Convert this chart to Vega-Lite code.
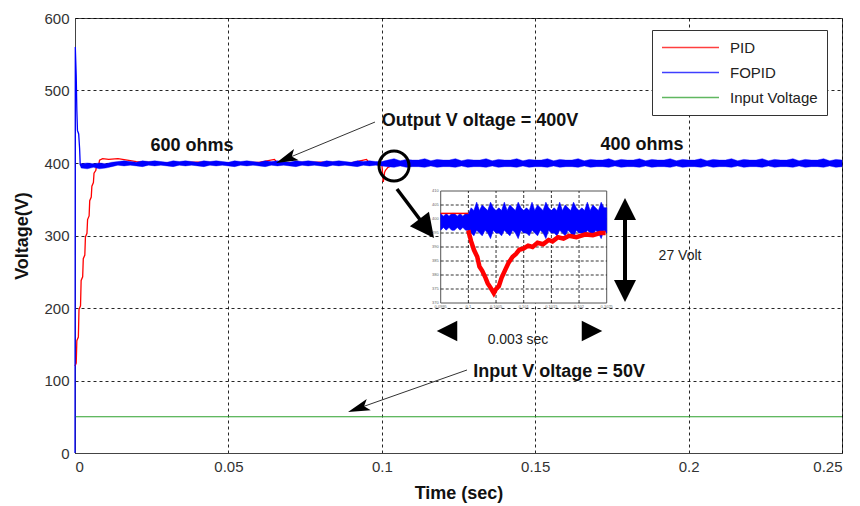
{
  "$schema": "https://vega.github.io/schema/vega-lite/v6.json",
  "width": 767,
  "height": 435,
  "autosize": {"type": "none"},
  "padding": {"left": 75, "top": 18, "right": 18, "bottom": 53},
  "background": "white",
  "datasets": {
    "pid": [
      {"t": 0, "v": 120}, {"t": 0.0004, "v": 124}, {"t": 0.0006, "v": 155}, {"t": 0.0011, "v": 160},
      {"t": 0.0013, "v": 198}, {"t": 0.0018, "v": 203}, {"t": 0.002, "v": 238}, {"t": 0.0025, "v": 243},
      {"t": 0.0027, "v": 268}, {"t": 0.0032, "v": 273}, {"t": 0.0034, "v": 298}, {"t": 0.0039, "v": 303},
      {"t": 0.0041, "v": 322}, {"t": 0.0046, "v": 327}, {"t": 0.0048, "v": 348}, {"t": 0.0053, "v": 353},
      {"t": 0.0055, "v": 368}, {"t": 0.006, "v": 373}, {"t": 0.0062, "v": 386}, {"t": 0.0068, "v": 390},
      {"t": 0.007, "v": 396}, {"t": 0.0078, "v": 399}, {"t": 0.008, "v": 404}, {"t": 0.009, "v": 406},
      {"t": 0.011, "v": 405}, {"t": 0.014, "v": 406}, {"t": 0.017, "v": 404}, {"t": 0.02, "v": 402},
      {"t": 0.025, "v": 401}, {"t": 0.03, "v": 400}, {"t": 0.04, "v": 401}, {"t": 0.05, "v": 400},
      {"t": 0.06, "v": 401}, {"t": 0.065, "v": 405}, {"t": 0.066, "v": 400}, {"t": 0.08, "v": 401},
      {"t": 0.09, "v": 400}, {"t": 0.095, "v": 405}, {"t": 0.096, "v": 400}, {"t": 0.1, "v": 400},
      {"t": 0.1002, "v": 388}, {"t": 0.1004, "v": 377}, {"t": 0.1005, "v": 374}, {"t": 0.1007, "v": 380},
      {"t": 0.1009, "v": 387}, {"t": 0.1012, "v": 390}, {"t": 0.1016, "v": 392}, {"t": 0.102, "v": 394},
      {"t": 0.1025, "v": 395}, {"t": 0.103, "v": 396.5}, {"t": 0.104, "v": 398}, {"t": 0.106, "v": 399.5},
      {"t": 0.11, "v": 400}, {"t": 0.15, "v": 400}, {"t": 0.2, "v": 400}, {"t": 0.25, "v": 400}
    ],
    "fopidStart": [
      {"t": 0, "v": 0}, {"t": 0.0001, "v": 560}, {"t": 0.0004, "v": 520}, {"t": 0.0006, "v": 473},
      {"t": 0.0008, "v": 445}, {"t": 0.0012, "v": 440}, {"t": 0.0015, "v": 420}, {"t": 0.0017, "v": 398},
      {"t": 0.002, "v": 396}
    ],
    "fopidBand": [
      {"t": 0.0017, "lo": 397, "hi": 399},
      {"t": 0.002, "lo": 393, "hi": 399}, {"t": 0.004, "lo": 392, "hi": 400}, {"t": 0.006, "lo": 394, "hi": 399},
      {"t": 0.008, "lo": 392, "hi": 400}, {"t": 0.010, "lo": 393, "hi": 399}, {"t": 0.012, "lo": 395, "hi": 401},
      {"t": 0.014, "lo": 397, "hi": 402}, {"t": 0.016, "lo": 396, "hi": 403}, {"t": 0.018, "lo": 397, "hi": 402},
      {"t": 0.020, "lo": 396, "hi": 401}, {"t": 0.022, "lo": 395, "hi": 403}, {"t": 0.024, "lo": 397, "hi": 402},
      {"t": 0.026, "lo": 396, "hi": 403}, {"t": 0.028, "lo": 397, "hi": 402}, {"t": 0.030, "lo": 396, "hi": 401},
      {"t": 0.032, "lo": 395, "hi": 403}, {"t": 0.034, "lo": 397, "hi": 402}, {"t": 0.036, "lo": 396, "hi": 403},
      {"t": 0.038, "lo": 397, "hi": 402}, {"t": 0.040, "lo": 396, "hi": 401}, {"t": 0.042, "lo": 395, "hi": 403},
      {"t": 0.044, "lo": 397, "hi": 402}, {"t": 0.046, "lo": 396, "hi": 403}, {"t": 0.048, "lo": 397, "hi": 402},
      {"t": 0.050, "lo": 396, "hi": 401}, {"t": 0.052, "lo": 395, "hi": 403}, {"t": 0.054, "lo": 397, "hi": 402},
      {"t": 0.056, "lo": 396, "hi": 403}, {"t": 0.058, "lo": 397, "hi": 402}, {"t": 0.060, "lo": 396, "hi": 401},
      {"t": 0.062, "lo": 395, "hi": 403}, {"t": 0.064, "lo": 397, "hi": 402}, {"t": 0.066, "lo": 396, "hi": 403},
      {"t": 0.068, "lo": 397, "hi": 402}, {"t": 0.070, "lo": 396, "hi": 401}, {"t": 0.072, "lo": 395, "hi": 403},
      {"t": 0.074, "lo": 397, "hi": 402}, {"t": 0.076, "lo": 396, "hi": 403}, {"t": 0.078, "lo": 397, "hi": 402},
      {"t": 0.080, "lo": 396, "hi": 401}, {"t": 0.082, "lo": 395, "hi": 403}, {"t": 0.084, "lo": 397, "hi": 402},
      {"t": 0.086, "lo": 396, "hi": 403}, {"t": 0.088, "lo": 397, "hi": 402}, {"t": 0.090, "lo": 396, "hi": 401},
      {"t": 0.092, "lo": 395, "hi": 403}, {"t": 0.094, "lo": 397, "hi": 402}, {"t": 0.096, "lo": 396, "hi": 403},
      {"t": 0.098, "lo": 397, "hi": 402}, {"t": 0.100, "lo": 396, "hi": 402},
      {"t": 0.102, "lo": 395, "hi": 404}, {"t": 0.104, "lo": 394, "hi": 406}, {"t": 0.106, "lo": 396, "hi": 403},
      {"t": 0.108, "lo": 394, "hi": 405}, {"t": 0.110, "lo": 395, "hi": 404}, {"t": 0.112, "lo": 395, "hi": 404},
      {"t": 0.114, "lo": 394, "hi": 406}, {"t": 0.116, "lo": 396, "hi": 403}, {"t": 0.118, "lo": 394, "hi": 405},
      {"t": 0.120, "lo": 395, "hi": 404}, {"t": 0.122, "lo": 395, "hi": 404}, {"t": 0.124, "lo": 394, "hi": 406},
      {"t": 0.126, "lo": 396, "hi": 403}, {"t": 0.128, "lo": 394, "hi": 405}, {"t": 0.130, "lo": 395, "hi": 404},
      {"t": 0.132, "lo": 395, "hi": 404}, {"t": 0.134, "lo": 394, "hi": 406}, {"t": 0.136, "lo": 396, "hi": 403},
      {"t": 0.138, "lo": 394, "hi": 405}, {"t": 0.140, "lo": 395, "hi": 404}, {"t": 0.142, "lo": 395, "hi": 404},
      {"t": 0.144, "lo": 394, "hi": 406}, {"t": 0.146, "lo": 396, "hi": 403}, {"t": 0.148, "lo": 394, "hi": 405},
      {"t": 0.150, "lo": 395, "hi": 404}, {"t": 0.152, "lo": 395, "hi": 404}, {"t": 0.154, "lo": 394, "hi": 406},
      {"t": 0.156, "lo": 396, "hi": 403}, {"t": 0.158, "lo": 394, "hi": 405}, {"t": 0.160, "lo": 395, "hi": 404},
      {"t": 0.162, "lo": 395, "hi": 404}, {"t": 0.164, "lo": 394, "hi": 406}, {"t": 0.166, "lo": 396, "hi": 403},
      {"t": 0.168, "lo": 394, "hi": 405}, {"t": 0.170, "lo": 395, "hi": 404}, {"t": 0.172, "lo": 395, "hi": 404},
      {"t": 0.174, "lo": 394, "hi": 406}, {"t": 0.176, "lo": 396, "hi": 403}, {"t": 0.178, "lo": 394, "hi": 405},
      {"t": 0.180, "lo": 395, "hi": 404}, {"t": 0.182, "lo": 395, "hi": 404}, {"t": 0.184, "lo": 394, "hi": 406},
      {"t": 0.186, "lo": 396, "hi": 403}, {"t": 0.188, "lo": 394, "hi": 405}, {"t": 0.190, "lo": 395, "hi": 404},
      {"t": 0.192, "lo": 395, "hi": 404}, {"t": 0.194, "lo": 394, "hi": 406}, {"t": 0.196, "lo": 396, "hi": 403},
      {"t": 0.198, "lo": 394, "hi": 405}, {"t": 0.200, "lo": 395, "hi": 404}, {"t": 0.202, "lo": 395, "hi": 404},
      {"t": 0.204, "lo": 394, "hi": 406}, {"t": 0.206, "lo": 396, "hi": 403}, {"t": 0.208, "lo": 394, "hi": 405},
      {"t": 0.210, "lo": 395, "hi": 404}, {"t": 0.212, "lo": 395, "hi": 404}, {"t": 0.214, "lo": 394, "hi": 406},
      {"t": 0.216, "lo": 396, "hi": 403}, {"t": 0.218, "lo": 394, "hi": 405}, {"t": 0.220, "lo": 395, "hi": 404},
      {"t": 0.222, "lo": 395, "hi": 404}, {"t": 0.224, "lo": 394, "hi": 406}, {"t": 0.226, "lo": 396, "hi": 403},
      {"t": 0.228, "lo": 394, "hi": 405}, {"t": 0.230, "lo": 395, "hi": 404}, {"t": 0.232, "lo": 395, "hi": 404},
      {"t": 0.234, "lo": 394, "hi": 406}, {"t": 0.236, "lo": 396, "hi": 403}, {"t": 0.238, "lo": 394, "hi": 405},
      {"t": 0.240, "lo": 395, "hi": 404}, {"t": 0.242, "lo": 395, "hi": 404}, {"t": 0.244, "lo": 394, "hi": 406},
      {"t": 0.246, "lo": 396, "hi": 403}, {"t": 0.248, "lo": 394, "hi": 405}, {"t": 0.250, "lo": 395, "hi": 404}
    ],
    "input": [{"t": 0, "v": 50}, {"t": 0.25, "v": 50}],
    "boldText": [
      {"label": "600 ohms", "t": 0.0381, "v": 423.4},
      {"label": "Output V oltage = 400V", "t": 0.1320, "v": 457.9},
      {"label": "400 ohms", "t": 0.1848, "v": 424.8},
      {"label": "Input V oltage = 50V", "t": 0.1578, "v": 112.1}
    ],
    "plainText": [
      {"label": "27 Volt", "t": 0.1972, "v": 271.7},
      {"label": "0.003 sec", "t": 0.1444, "v": 155.9}
    ],
    "thinArrows": [
      {"t": 0.09778, "v": 456.5, "t2": 0.06884, "v2": 405.8},
      {"t": 0.12777, "v": 114.5, "t2": 0.09237, "v2": 61.7}
    ],
    "insetGridT": [{"t": 0.1}, {"t": 0.1005}, {"t": 0.101}, {"t": 0.1015}, {"t": 0.102}],
    "insetGridV": [{"v": 375}, {"v": 380}, {"v": 385}, {"v": 390}, {"v": 395}, {"v": 400}, {"v": 405}],
    "insetYLabels": [{"v": 370, "label": "370"}, {"v": 375, "label": "375"}, {"v": 380, "label": "380"}, {"v": 385, "label": "385"}, {"v": 390, "label": "390"}, {"v": 395, "label": "395"}, {"v": 400, "label": "400"}, {"v": 405, "label": "405"}, {"v": 410, "label": "410"}],
    "insetXLabels": [{"t": 0.0995, "label": "0.0995"}, {"t": 0.1, "label": "0.1"}, {"t": 0.1005, "label": "0.1005"}, {"t": 0.101, "label": "0.101"}, {"t": 0.1015, "label": "0.1015"}, {"t": 0.102, "label": "0.102"}, {"t": 0.1025, "label": "0.1025"}],
    "insetBlueBand": [
      {"t": 0.0995, "lo": 396, "hi": 402}, {"t": 0.09955, "lo": 397, "hi": 401}, {"t": 0.0996, "lo": 396, "hi": 402},
      {"t": 0.09965, "lo": 397, "hi": 401}, {"t": 0.0997, "lo": 396, "hi": 402}, {"t": 0.09975, "lo": 396, "hi": 402},
      {"t": 0.0998, "lo": 397, "hi": 401}, {"t": 0.09985, "lo": 396, "hi": 402}, {"t": 0.0999, "lo": 397, "hi": 401},
      {"t": 0.09995, "lo": 396, "hi": 402}, {"t": 0.1, "lo": 396, "hi": 402},
      {"t": 0.10005, "lo": 395, "hi": 404}, {"t": 0.1001, "lo": 394, "hi": 403}, {"t": 0.10015, "lo": 396, "hi": 406},
      {"t": 0.1002, "lo": 395, "hi": 403}, {"t": 0.10025, "lo": 394, "hi": 405}, {"t": 0.1003, "lo": 396, "hi": 404},
      {"t": 0.10035, "lo": 395, "hi": 403}, {"t": 0.1004, "lo": 393, "hi": 406}, {"t": 0.10045, "lo": 396, "hi": 404},
      {"t": 0.1005, "lo": 395, "hi": 403}, {"t": 0.10055, "lo": 395, "hi": 404}, {"t": 0.1006, "lo": 394, "hi": 403},
      {"t": 0.10065, "lo": 396, "hi": 406}, {"t": 0.1007, "lo": 395, "hi": 403}, {"t": 0.10075, "lo": 394, "hi": 405},
      {"t": 0.1008, "lo": 396, "hi": 404}, {"t": 0.10085, "lo": 395, "hi": 403}, {"t": 0.1009, "lo": 393, "hi": 406},
      {"t": 0.10095, "lo": 396, "hi": 404}, {"t": 0.101, "lo": 395, "hi": 403}, {"t": 0.10105, "lo": 395, "hi": 404},
      {"t": 0.1011, "lo": 394, "hi": 403}, {"t": 0.10115, "lo": 396, "hi": 406}, {"t": 0.1012, "lo": 395, "hi": 403},
      {"t": 0.10125, "lo": 394, "hi": 405}, {"t": 0.1013, "lo": 396, "hi": 404}, {"t": 0.10135, "lo": 395, "hi": 403},
      {"t": 0.1014, "lo": 393, "hi": 406}, {"t": 0.10145, "lo": 396, "hi": 404}, {"t": 0.1015, "lo": 395, "hi": 403},
      {"t": 0.10155, "lo": 395, "hi": 404}, {"t": 0.1016, "lo": 394, "hi": 403}, {"t": 0.10165, "lo": 396, "hi": 406},
      {"t": 0.1017, "lo": 395, "hi": 403}, {"t": 0.10175, "lo": 394, "hi": 405}, {"t": 0.1018, "lo": 396, "hi": 404},
      {"t": 0.10185, "lo": 395, "hi": 403}, {"t": 0.1019, "lo": 393, "hi": 406}, {"t": 0.10195, "lo": 396, "hi": 404},
      {"t": 0.102, "lo": 395, "hi": 403}, {"t": 0.10205, "lo": 395, "hi": 404}, {"t": 0.1021, "lo": 394, "hi": 403},
      {"t": 0.10215, "lo": 396, "hi": 406}, {"t": 0.1022, "lo": 395, "hi": 403}, {"t": 0.10225, "lo": 394, "hi": 405},
      {"t": 0.1023, "lo": 396, "hi": 404}, {"t": 0.10235, "lo": 395, "hi": 403}, {"t": 0.1024, "lo": 393, "hi": 406},
      {"t": 0.10245, "lo": 396, "hi": 404}, {"t": 0.1025, "lo": 395, "hi": 404}
    ],
    "insetRedFlat": [{"t": 0.0995, "v": 402}, {"t": 0.1, "v": 402}],
    "insetRedDip": [
      {"t": 0.1, "v": 396}, {"t": 0.10001, "v": 395}, {"t": 0.10005, "v": 392},
      {"t": 0.1001, "v": 389}, {"t": 0.10016, "v": 386.5}, {"t": 0.1002, "v": 383}, {"t": 0.10025, "v": 381.5},
      {"t": 0.10031, "v": 379}, {"t": 0.10035, "v": 377}, {"t": 0.1004, "v": 375.5}, {"t": 0.10046, "v": 373.5},
      {"t": 0.1005, "v": 375}, {"t": 0.10055, "v": 376}, {"t": 0.1006, "v": 379}, {"t": 0.10067, "v": 382},
      {"t": 0.10073, "v": 384.5}, {"t": 0.1008, "v": 386.5}, {"t": 0.10086, "v": 387.5}, {"t": 0.10092, "v": 389},
      {"t": 0.101, "v": 389.5}, {"t": 0.10108, "v": 390.5}, {"t": 0.10116, "v": 390}, {"t": 0.10125, "v": 391.5},
      {"t": 0.10135, "v": 391}, {"t": 0.10145, "v": 392.5}, {"t": 0.10152, "v": 392}, {"t": 0.10162, "v": 393.5},
      {"t": 0.10172, "v": 393}, {"t": 0.10182, "v": 394}, {"t": 0.10195, "v": 393.5}, {"t": 0.10212, "v": 394.5},
      {"t": 0.10225, "v": 394.2}, {"t": 0.10238, "v": 395}, {"t": 0.10248, "v": 395}
    ]
  },
  "layer": [
    {
      "layer": [
        {
          "data": {"name": "input"},
          "mark": {"type": "line", "strokeWidth": 1.2},
          "encoding": {
            "x": {"field": "t", "type": "quantitative", "scale": {"domain": [0, 0.25], "nice": false, "zero": false},
                  "axis": {"title": "Time (sec)", "values": [0, 0.05, 0.1, 0.15, 0.2, 0.25], "format": "~g", "labelPadding": 6, "titlePadding": 10}},
            "y": {"field": "v", "type": "quantitative", "scale": {"domain": [0, 600], "nice": false, "zero": false},
                  "axis": {"title": "Voltage(V)", "values": [0, 100, 200, 300, 400, 500, 600], "labelPadding": 6, "titlePadding": 12}},
            "color": {"datum": "Input Voltage", "type": "nominal",
                      "scale": {"domain": ["PID", "FOPID", "Input Voltage"], "range": ["#ff0000", "#0000ff", "#2ca02c"]},
                      "legend": {"orient": "none", "legendX": 577, "legendY": 12, "title": null, "symbolType": "M-1,0H6.6",
                                 "symbolSize": 225, "symbolStrokeWidth": 1.3, "symbolOpacity": 0.75, "labelFontSize": 15, "padding": 9,
                                 "rowPadding": 8, "strokeColor": "#333", "fillColor": "#ffffff", "labelColor": "#222",
                                 "labelOffset": 52, "labelFont": "Liberation Sans"}}
          }
        },
        {
          "data": {"name": "pid"},
          "mark": {"type": "line", "strokeWidth": 1.3},
          "encoding": {
            "x": {"field": "t", "type": "quantitative"},
            "y": {"field": "v", "type": "quantitative"},
            "color": {"datum": "PID", "type": "nominal"}
          }
        },
        {
          "data": {"name": "fopidStart"},
          "mark": {"type": "line", "strokeWidth": 1.3},
          "encoding": {
            "x": {"field": "t", "type": "quantitative"},
            "y": {"field": "v", "type": "quantitative"},
            "color": {"datum": "FOPID", "type": "nominal"}
          }
        },
        {
          "data": {"name": "fopidBand"},
          "mark": {"type": "area", "color": "#0000ff", "opacity": 1, "stroke": "#0000ff", "strokeWidth": 0.4},
          "encoding": {
            "x": {"field": "t", "type": "quantitative"},
            "y": {"field": "lo", "type": "quantitative"},
            "y2": {"field": "hi"}
          }
        },
        {
          "data": {"name": "boldText"},
          "mark": {"type": "text", "fontSize": 18, "fontWeight": "bold", "color": "#111", "align": "center", "baseline": "middle"},
          "encoding": {
            "x": {"field": "t", "type": "quantitative"},
            "y": {"field": "v", "type": "quantitative"},
            "text": {"field": "label"}
          }
        },
        {
          "data": {"name": "plainText"},
          "mark": {"type": "text", "fontSize": 14, "color": "#222", "align": "center", "baseline": "middle"},
          "encoding": {
            "x": {"field": "t", "type": "quantitative"},
            "y": {"field": "v", "type": "quantitative"},
            "text": {"field": "label"}
          }
        },
        {
          "data": {"name": "thinArrows"},
          "mark": {"type": "rule", "color": "#333", "strokeWidth": 1},
          "encoding": {
            "x": {"field": "t", "type": "quantitative"},
            "y": {"field": "v", "type": "quantitative"},
            "x2": {"field": "t2"},
            "y2": {"field": "v2"}
          }
        },
        {
          "data": {"values": [{"t": 0.06884, "v": 405.8}]},
          "mark": {"type": "point", "shape": "M0,-1L0.55,1L0,0.55L-0.55,1Z", "size": 484, "filled": true, "color": "#000", "opacity": 1, "angle": 247.5},
          "encoding": {"x": {"field": "t", "type": "quantitative"}, "y": {"field": "v", "type": "quantitative"}}
        },
        {
          "data": {"values": [{"t": 0.09237, "v": 61.7}]},
          "mark": {"type": "point", "shape": "M0,-1L0.55,1L0,0.55L-0.55,1Z", "size": 484, "filled": true, "color": "#000", "opacity": 1, "angle": 250.5},
          "encoding": {"x": {"field": "t", "type": "quantitative"}, "y": {"field": "v", "type": "quantitative"}}
        },
        {
          "data": {"values": [{"t": 0.10398, "v": 395.9}]},
          "mark": {"type": "point", "shape": "circle", "size": 900, "filled": false, "color": "#000", "strokeWidth": 3, "opacity": 1},
          "encoding": {"x": {"field": "t", "type": "quantitative"}, "y": {"field": "v", "type": "quantitative"}}
        },
        {
          "data": {"values": [{"t": 0.10495, "v": 364.1, "t2": 0.11464, "v2": 309.7}]},
          "mark": {"type": "rule", "color": "#000", "strokeWidth": 3.5},
          "encoding": {
            "x": {"field": "t", "type": "quantitative"},
            "y": {"field": "v", "type": "quantitative"},
            "x2": {"field": "t2"},
            "y2": {"field": "v2"}
          }
        },
        {
          "data": {"values": [{"t": 0.11464, "v": 309.7}]},
          "mark": {"type": "point", "shape": "M0,-1L1,1L-1,1Z", "size": 576, "filled": true, "color": "#000", "opacity": 1, "angle": 142.6},
          "encoding": {"x": {"field": "t", "type": "quantitative"}, "y": {"field": "v", "type": "quantitative"}}
        },
        {
          "data": {"values": [{"t": 0.17927, "v": 336.6, "v2": 223.4}]},
          "mark": {"type": "rule", "color": "#000", "strokeWidth": 4},
          "encoding": {
            "x": {"field": "t", "type": "quantitative"},
            "y": {"field": "v", "type": "quantitative"},
            "y2": {"field": "v2"}
          }
        },
        {
          "data": {"values": [{"t": 0.17927, "v": 336.6}]},
          "mark": {"type": "point", "shape": "M0,-1L1,1L-1,1Z", "size": 484, "filled": true, "color": "#000", "opacity": 1, "angle": 0},
          "encoding": {"x": {"field": "t", "type": "quantitative"}, "y": {"field": "v", "type": "quantitative"}}
        },
        {
          "data": {"values": [{"t": 0.17927, "v": 223.4}]},
          "mark": {"type": "point", "shape": "M0,-1L1,1L-1,1Z", "size": 484, "filled": true, "color": "#000", "opacity": 1, "angle": 180},
          "encoding": {"x": {"field": "t", "type": "quantitative"}, "y": {"field": "v", "type": "quantitative"}}
        },
        {
          "data": {"values": [{"t": 0.12125, "v": 168.3}]},
          "mark": {"type": "point", "shape": "M0,-1L1,1L-1,1Z", "size": 420, "filled": true, "color": "#000", "opacity": 1, "angle": 270},
          "encoding": {"x": {"field": "t", "type": "quantitative"}, "y": {"field": "v", "type": "quantitative"}}
        },
        {
          "data": {"values": [{"t": 0.16851, "v": 168.3}]},
          "mark": {"type": "point", "shape": "M0,-1L1,1L-1,1Z", "size": 420, "filled": true, "color": "#000", "opacity": 1, "angle": 90},
          "encoding": {"x": {"field": "t", "type": "quantitative"}, "y": {"field": "v", "type": "quantitative"}}
        }
      ]
    },
    {
      "layer": [
        {
          "data": {"values": [{"t": 0.0995, "t2": 0.1025, "v": 370, "v2": 410}]},
          "mark": {"type": "rect", "fill": "#ffffff", "stroke": "#555", "strokeWidth": 1},
          "encoding": {
            "x": {"field": "t", "type": "quantitative", "scale": {"domain": [0.092891, 0.106752], "nice": false, "zero": false}, "axis": null},
            "y": {"field": "v", "type": "quantitative", "scale": {"domain": [316.43, 471.79], "nice": false, "zero": false}, "axis": null},
            "x2": {"field": "t2"},
            "y2": {"field": "v2"}
          }
        },
        {
          "data": {"name": "insetGridT"},
          "mark": {"type": "rule", "color": "#000", "strokeWidth": 0.8, "strokeDash": [3, 2]},
          "encoding": {
            "x": {"field": "t", "type": "quantitative", "axis": null},
            "y": {"datum": 370, "type": "quantitative", "axis": null},
            "y2": {"datum": 410}
          }
        },
        {
          "data": {"name": "insetGridV"},
          "mark": {"type": "rule", "color": "#000", "strokeWidth": 0.8, "strokeDash": [3, 2]},
          "encoding": {
            "y": {"field": "v", "type": "quantitative", "axis": null},
            "x": {"datum": 0.0995, "type": "quantitative", "axis": null},
            "x2": {"datum": 0.1025}
          }
        },
        {
          "data": {"name": "insetBlueBand"},
          "mark": {"type": "area", "color": "#0000ff", "opacity": 1, "stroke": "#0000ff", "strokeWidth": 0.6},
          "encoding": {
            "x": {"field": "t", "type": "quantitative", "axis": null},
            "y": {"field": "lo", "type": "quantitative", "axis": null},
            "y2": {"field": "hi"}
          }
        },
        {
          "data": {"name": "insetRedFlat"},
          "mark": {"type": "line", "color": "#ff0000", "strokeWidth": 1.5},
          "encoding": {
            "x": {"field": "t", "type": "quantitative", "axis": null},
            "y": {"field": "v", "type": "quantitative", "axis": null}
          }
        },
        {
          "data": {"name": "insetRedDip"},
          "mark": {"type": "line", "color": "#ff0000", "strokeWidth": 4.5},
          "encoding": {
            "x": {"field": "t", "type": "quantitative", "axis": null},
            "y": {"field": "v", "type": "quantitative", "axis": null}
          }
        },
        {
          "data": {"name": "insetYLabels"},
          "mark": {"type": "text", "fontSize": 4, "color": "#666", "align": "right", "baseline": "middle", "dx": -2},
          "encoding": {
            "x": {"datum": 0.0995, "type": "quantitative", "axis": null},
            "y": {"field": "v", "type": "quantitative", "axis": null},
            "text": {"field": "label"}
          }
        },
        {
          "data": {"name": "insetXLabels"},
          "mark": {"type": "text", "fontSize": 4, "color": "#666", "align": "center", "baseline": "top", "dy": 2},
          "encoding": {
            "x": {"field": "t", "type": "quantitative", "axis": null},
            "y": {"datum": 370, "type": "quantitative", "axis": null},
            "text": {"field": "label"}
          }
        }
      ]
    }
  ],
  "resolve": {"scale": {"x": "independent", "y": "independent"}},
  "config": {
    "font": "Liberation Sans",
    "view": {"stroke": "#444", "strokeWidth": 1},
    "axis": {
      "labelFont": "Liberation Sans", "labelFontSize": 15, "labelColor": "#333",
      "titleFont": "Liberation Sans", "titleFontSize": 18, "titleFontWeight": "bold", "titleColor": "#111",
      "domainColor": "#444", "domainWidth": 1, "ticks": false,
      "grid": true, "gridColor": "#000", "gridDash": [3, 3], "gridOpacity": 0.85, "gridWidth": 1
    }
  }
}
